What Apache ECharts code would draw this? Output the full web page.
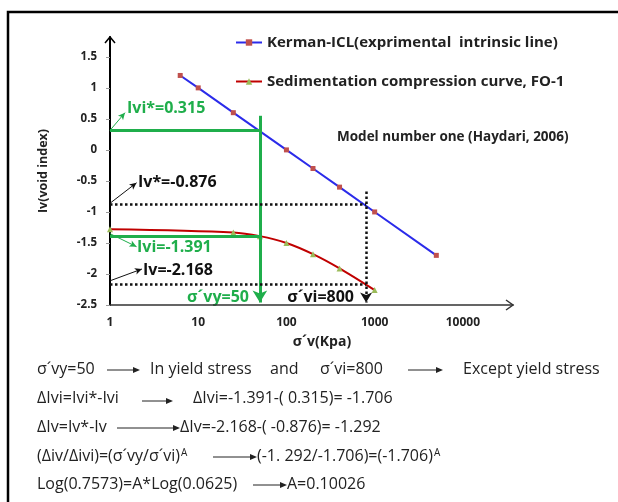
<!DOCTYPE html>
<html>
<head>
<meta charset="utf-8">
<script src="https://cdn.jsdelivr.net/npm/echarts@6.0.0/dist/echarts.min.js"></script>
<style>
  html, body { margin: 0; padding: 0; background: #fff; }
  #chart { width: 618px; height: 502px; }
</style>
</head>
<body>
<div id="chart"></div>
<script>
// data
const seriesNames = ['Kerman-ICL(exprimental  intrinsic line)', 'Sedimentation compression curve, FO-1'];
const iclStress = [6.25, 10, 25, 100, 200, 400, 1000, 5000];
const iclIv = [1.2, 1.0, 0.6, 0.0, -0.3, -0.6, -1.0, -1.7];
const sedStress = [1, 25, 50, 100, 200, 400, 1000];
const sedIv = [-1.28, -1.33, -1.39, -1.5, -1.68, -1.91, -2.26];
const yTicks = [-2.5, -2, -1.5, -1, -0.5, 0, 0.5, 1, 1.5];
const xTicks = [1, 10, 100, 1000, 10000];

// reading values
const sigmaVy = 50;
const sigmaVi = 800;
const ivStarI = 0.315;
const ivI = -1.391;
const ivStar = -0.876;
const iv = -2.168;

const GREEN = '#1fae4b';
const FONT = '"Open Sans"';

const chart = echarts.init(document.getElementById('chart'));

function pair(a, b, color, width, type, endSymbol, endSize) {
  return [
    { coord: a, symbol: 'none', lineStyle: { color: color, width: width, type: type } },
    { coord: b, symbol: endSymbol || 'none', symbolSize: endSize || 0, itemStyle: { color: color } }
  ];
}

function txt(x, y, s, o) {
  return {
    type: 'text', x: x, y: y, silent: true,
    style: Object.assign({ text: s, fill: '#222', font: '16px ' + FONT, textVerticalAlign: 'middle' }, o || {})
  };
}

function bold(x, y, s, color, size, align) {
  return txt(x, y, s, { fill: color, font: 'bold ' + size + 'px ' + FONT, textAlign: align || 'left' });
}

function arrow(x1, y, x2) {
  return [
    { type: 'line', silent: true, shape: { x1: x1, y1: y, x2: x2 - 5, y2: y }, style: { stroke: '#222', lineWidth: 1 } },
    { type: 'polygon', silent: true, shape: { points: [[x2, y], [x2 - 7, y - 3], [x2 - 7, y + 3]] }, style: { fill: '#222' } }
  ];
}

function sup(x, y, s) {
  return {
    type: 'text', x: x, y: y, silent: true,
    style: {
      text: '{a|' + s + '}{s|A}', textVerticalAlign: 'middle',
      rich: {
        a: { font: '16px ' + FONT, fill: '#222' },
        s: { font: '10px ' + FONT, fill: '#222', verticalAlign: 'top', padding: [0, 0, 0, 1] }
      }
    }
  };
}

const graphics = [
  // frame
  { type: 'rect', silent: true, shape: { x: 8, y: 12, width: 700, height: 600 }, style: { fill: 'none', stroke: '#000', lineWidth: 2.5 } },
  // axis arrow heads
  { type: 'polyline', silent: true, shape: { points: [[105, 43], [110, 37], [115, 43]] }, style: { stroke: '#000', lineWidth: 1.5, fill: null } },
  { type: 'polyline', silent: true, shape: { points: [[506, 300], [513, 305], [506, 310]] }, style: { stroke: '#333', lineWidth: 1.5, fill: null } },
  // annotations in plot
  bold(337, 137, 'Model number one (Haydari, 2006)', '#222', 13.5),
  bold(127, 108, 'Ivi*=0.315', GREEN, 16),
  bold(138, 182, 'Iv*=-0.876', '#111', 16),
  bold(137, 247, 'Ivi=-1.391', GREEN, 16),
  bold(143, 270, 'Iv=-2.168', '#111', 16),
  bold(249, 297, 'σ´vy=50', GREEN, 16, 'right'),
  bold(354, 297, 'σ´vi=800', '#111', 16, 'right'),
  // equations
  txt(37, 369, 'σ´vy=50'),
  txt(150, 369, 'In yield stress'),
  txt(270, 369, 'and'),
  txt(320, 369, 'σ´vi=800'),
  txt(463, 369, 'Except yield stress'),
  txt(37, 398, 'ΔIvi=Ivi*-Ivi'),
  txt(193, 398, 'ΔIvi=-1.391-( 0.315)= -1.706'),
  txt(37, 427, 'ΔIv=Iv*-Iv'),
  txt(180, 427, 'ΔIv=-2.168-( -0.876)= -1.292'),
  sup(37, 456, '(Δiv/Δivi)=(σ´vy/σ´vi)'),
  sup(257, 456, '(-1. 292/-1.706)=(-1.706)'),
  txt(37, 484, 'Log(0.7573)=A*Log(0.0625)'),
  txt(287, 484, 'A=0.10026')
].concat(
  arrow(107, 370, 140), arrow(408, 370, 443),
  arrow(142, 401, 173), arrow(117, 428, 180),
  arrow(213, 457, 257), arrow(253, 485, 287)
);

const option = {
  animation: false,
  backgroundColor: '#fff',
  grid: { left: 110, right: 105, top: 37, bottom: 197 },
  legend: {
    orient: 'vertical', left: 235, top: 35, padding: 0,
    itemWidth: 26, itemHeight: 8, itemGap: 24,
    textStyle: { fontFamily: FONT, fontWeight: 'bold', fontSize: 15, color: '#222' },
    data: seriesNames
  },
  xAxis: {
    type: 'log', logBase: 10, min: 1, max: 37000,
    name: 'σ´v(Kpa)', nameLocation: 'middle', nameGap: 30,
    nameTextStyle: { fontFamily: FONT, fontWeight: 'bold', fontSize: 14, color: '#222', padding: [0, 0, 0, 21] },
    axisLine: { onZero: false, lineStyle: { color: '#333', width: 1.5 } },
    axisTick: { show: false },
    splitLine: { show: false },
    axisLabel: {
      margin: 12, fontFamily: FONT, fontWeight: 'bold', fontSize: 12, color: '#222',
      formatter: function (v) {
        const r = Math.round(v);
        return xTicks.indexOf(r) >= 0 && Math.abs(v - r) < 1e-6 * r ? String(r) : '';
      }
    }
  },
  yAxis: {
    type: 'value', min: -2.5, max: 1.82,
    name: 'Iv(void index)', nameLocation: 'middle', nameGap: 60,
    nameTextStyle: { fontFamily: FONT, fontWeight: 'bold', fontSize: 12.5, color: '#222' },
    axisLine: { show: true, onZero: false, lineStyle: { color: '#000', width: 2 } },
    axisTick: { show: true, length: 4, customValues: yTicks, lineStyle: { color: '#999' } },
    splitLine: { show: false },
    axisLabel: { margin: 13, customValues: yTicks, fontFamily: FONT, fontWeight: 'bold', fontSize: 11.5, color: '#222' }
  },
  series: [
    {
      name: seriesNames[0], type: 'line',
      data: iclStress.map((s, i) => [s, iclIv[i]]),
      symbol: 'rect', symbolSize: 5,
      lineStyle: { color: '#2b2bea', width: 2 },
      itemStyle: { color: '#c0504d' },
      z: 3
    },
    {
      name: seriesNames[1], type: 'line',
      data: sedStress.map((s, i) => [s, sedIv[i]]),
      smooth: 0.3,
      symbol: 'triangle', symbolSize: 6,
      lineStyle: { color: '#c00000', width: 2 },
      itemStyle: { color: '#9bbb59' },
      z: 3,
      markLine: {
        silent: true, animation: false,
        label: { show: false },
        emphasis: { disabled: true },
        data: [
          pair([1, ivStarI], [sigmaVy, ivStarI], GREEN, 3, 'solid'),
          pair([1, ivI], [sigmaVy, ivI], GREEN, 3, 'solid'),
          pair([sigmaVy, 0.55], [sigmaVy, -2.46], GREEN, 3, 'solid', 'arrow', [11, 12]),
          pair([1, ivStar], [sigmaVi, ivStar], '#111', 2.5, [2.5, 2.5]),
          pair([1, iv], [sigmaVi, iv], '#111', 2.5, [2.5, 2.5]),
          pair([sigmaVi, -0.67], [sigmaVi, -2.46], '#111', 2.5, [2.5, 2.5], 'arrow', [9, 10]),
          pair([1, ivStarI], [1.48, 0.6], GREEN, 1, 'solid', 'arrow', [5, 7]),
          pair([1, -0.86], [2.0, -0.53], '#111', 1, 'solid', 'arrow', [5, 7]),
          pair([1, -1.35], [2.0, -1.56], GREEN, 1, 'solid', 'arrow', [5, 7]),
          pair([1, -2.11], [2.3, -1.92], '#111', 1, 'solid', 'arrow', [5, 7])
        ]
      }
    }
  ],
  graphic: graphics
};

chart.setOption(option);
</script>
</body>
</html>
